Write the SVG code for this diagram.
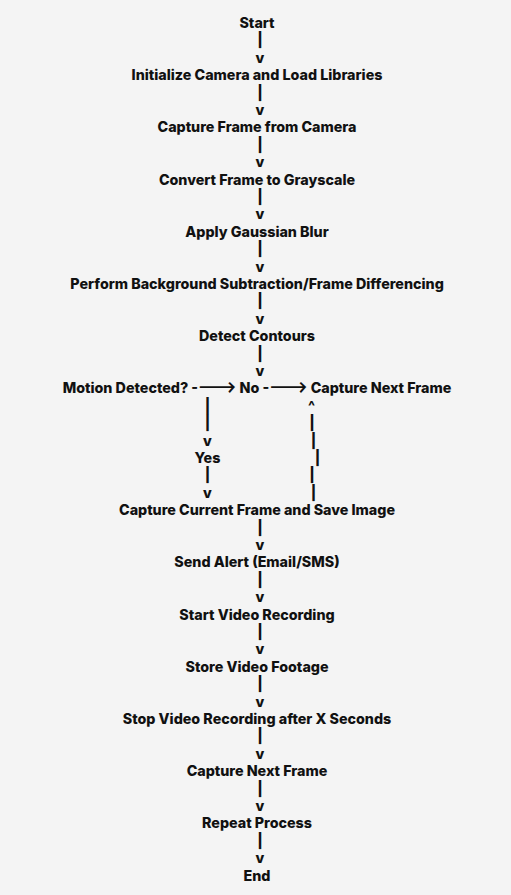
<svg xmlns="http://www.w3.org/2000/svg" width="511" height="895" viewBox="0 0 511 895">
<style>
text{font-family:Inter,"Liberation Sans",sans-serif;font-weight:800;font-size:14.3px;fill:#111;text-anchor:middle}
</style>
<rect width="511" height="895" fill="#f4f4f4"/>
<g id="nodes">
<g id="n-start"><text x="257" y="28">Start</text></g>
<g id="n-init"><text x="257" y="80.2">Initialize Camera and Load Libraries</text></g>
<g id="n-capture"><text x="257" y="132.4">Capture Frame from Camera</text></g>
<g id="n-gray"><text x="257" y="184.6">Convert Frame to Grayscale</text></g>
<g id="n-blur"><text x="257" y="236.8">Apply Gaussian Blur</text></g>
<g id="n-bg"><text x="257" y="289">Perform Background Subtraction/Frame Differencing</text></g>
<g id="n-contours"><text x="257" y="341.2">Detect Contours</text></g>
<g id="n-motion"><text x="257" y="393.4">Motion Detected? -&#x200C;---&gt; No -&#x200C;---&gt; Capture Next Frame</text></g>
<g id="n-yes"><text x="207.5" y="463">Yes</text></g>
<g id="n-save"><text x="257" y="515.2">Capture Current Frame and Save Image</text></g>
<g id="n-alert"><text x="257" y="567.4">Send Alert (Email/SMS)</text></g>
<g id="n-rec"><text x="257" y="619.6">Start Video Recording</text></g>
<g id="n-store"><text x="257" y="671.8">Store Video Footage</text></g>
<g id="n-stop"><text x="257" y="724">Stop Video Recording after X Seconds</text></g>
<g id="n-next"><text x="257" y="776.2">Capture Next Frame</text></g>
<g id="n-repeat"><text x="257" y="828.4">Repeat Process</text></g>
<g id="n-end"><text x="257" y="880.6">End</text></g>
</g>
<g id="connectors">
<text x="260" y="45.4">|</text><text x="260" y="62.8">v</text>
<text x="260" y="97.6">|</text><text x="260" y="115">v</text>
<text x="260" y="149.8">|</text><text x="260" y="167.2">v</text>
<text x="260" y="202">|</text><text x="260" y="219.4">v</text>
<text x="260" y="254.2">|</text><text x="260" y="271.6">v</text>
<text x="260" y="306.4">|</text><text x="260" y="323.8">v</text>
<text x="260" y="358.6">|</text><text x="260" y="376">v</text>
<text x="207.5" y="410.8">|</text><text x="207.5" y="428.2">|</text><text x="207.5" y="445.6">v</text>
<text x="207.5" y="480.4">|</text><text x="207.5" y="497.8">v</text>
<text x="311.5" y="410.8">^</text>
<text x="312" y="428.2">|</text><text x="313.5" y="445.6">|</text><text x="317.5" y="463">|</text><text x="312" y="480.4">|</text><text x="313.5" y="497.8">|</text>
<text x="260" y="532.6">|</text><text x="260" y="550">v</text>
<text x="260" y="584.8">|</text><text x="260" y="602.2">v</text>
<text x="260" y="637">|</text><text x="260" y="654.4">v</text>
<text x="260" y="689.2">|</text><text x="260" y="706.6">v</text>
<text x="260" y="741.4">|</text><text x="260" y="758.8">v</text>
<text x="260" y="793.6">|</text><text x="260" y="811">v</text>
<text x="260" y="845.8">|</text><text x="260" y="863.2">v</text>
</g>
</svg>
